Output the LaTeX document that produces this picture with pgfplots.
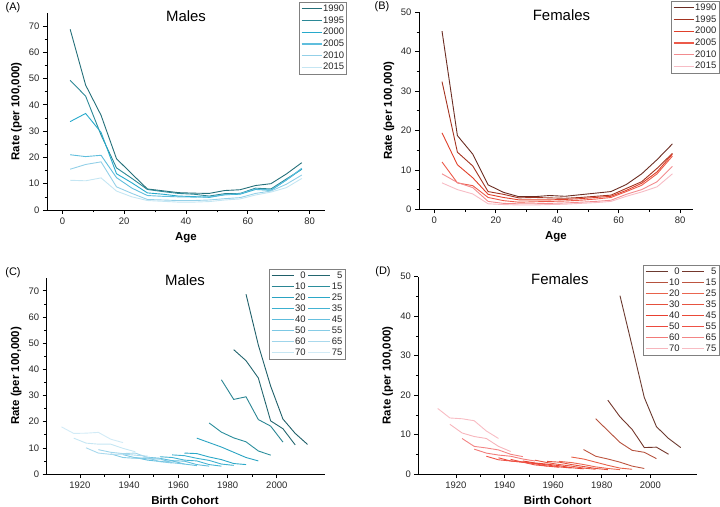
\documentclass[border=0pt]{standalone}
\usepackage{pgfplots}
\pgfplotsset{compat=1.18}
\usepackage{pgfplotstable}
\usepackage{fontspec}
\setmainfont{Liberation Sans}

% Panel A/B colours
\definecolor{m1990}{HTML}{246F79}
\definecolor{m1995}{HTML}{2B8896}
\definecolor{m2000}{HTML}{27AACC}
\definecolor{m2005}{HTML}{5FBEDD}
\definecolor{m2010}{HTML}{93D0E8}
\definecolor{m2015}{HTML}{C5E6F3}
\definecolor{f1990}{HTML}{6B2C22}
\definecolor{f1995}{HTML}{A33320}
\definecolor{f2000}{HTML}{E0402A}
\definecolor{f2005}{HTML}{EC5A4A}
\definecolor{f2010}{HTML}{F28B8E}
\definecolor{f2015}{HTML}{F7BCC5}
% Panel C colours
\definecolor{mc0}{HTML}{1F5F69}
\definecolor{mc5}{HTML}{23666F}
\definecolor{mc10}{HTML}{2A8593}
\definecolor{mc15}{HTML}{2B8E9C}
\definecolor{mc20}{HTML}{2AA3C2}
\definecolor{mc25}{HTML}{2BA8C8}
\definecolor{mc30}{HTML}{3CB0D0}
\definecolor{mc35}{HTML}{44B3D3}
\definecolor{mc40}{HTML}{5DBCDC}
\definecolor{mc45}{HTML}{66C0DF}
\definecolor{mc50}{HTML}{7CC8E4}
\definecolor{mc55}{HTML}{86CCE6}
\definecolor{mc60}{HTML}{9FD5EB}
\definecolor{mc65}{HTML}{AAD9ED}
\definecolor{mc70}{HTML}{C6E6F3}
\definecolor{mc75}{HTML}{D2EBF6}
% Panel D colours
\definecolor{fc0}{HTML}{6B3A30}
\definecolor{fc5}{HTML}{74372C}
\definecolor{fc10}{HTML}{B5523E}
\definecolor{fc15}{HTML}{BD5540}
\definecolor{fc20}{HTML}{E8624A}
\definecolor{fc25}{HTML}{EA6650}
\definecolor{fc30}{HTML}{E4503C}
\definecolor{fc35}{HTML}{E65440}
\definecolor{fc40}{HTML}{E84030}
\definecolor{fc45}{HTML}{EA4A38}
\definecolor{fc50}{HTML}{EC4A3E}
\definecolor{fc55}{HTML}{EE5246}
\definecolor{fc60}{HTML}{F27A78}
\definecolor{fc65}{HTML}{F38585}
\definecolor{fc70}{HTML}{F7B5BC}
\definecolor{fc75}{HTML}{F8BCC3}

\pgfplotstableread{
age y1990 y1995 y2000 y2005 y2010 y2015
2.5 68.7 49.3 33.6 21.0 15.5 11.3
7.5 47.5 43.3 36.7 20.3 17.3 11.1
12.5 36.0 28.5 29.5 20.8 18.3 12.2
17.5 19.5 16.0 13.8 12.3 8.8 7.2
22.5 13.7 12.0 10.3 8.3 6.3 5.0
27.5 8.0 7.8 6.5 5.5 4.0 3.6
32.5 7.3 7.0 6.0 5.2 3.8 3.3
37.5 6.6 6.3 5.3 5.0 3.6 3.0
42.5 6.4 6.0 5.1 4.9 3.6 3.0
47.5 6.3 5.3 4.8 5.0 3.8 3.2
52.5 7.4 6.2 5.8 5.8 4.3 3.8
57.5 7.7 6.3 6.0 6.2 4.7 4.2
62.5 9.3 8.3 7.8 8.0 6.3 5.7
67.5 10.0 8.0 7.5 7.6 7.2 6.8
72.5 13.7 11.8 11.4 11.4 9.8 8.5
77.5 18.0 15.5 15.6 15.9 13.3 12.0
}\males

\pgfplotstableread{
age y1990 y1995 y2000 y2005 y2010 y2015
2.5 45.2 32.4 19.4 12.0 9.0 6.7
7.5 18.7 14.5 11.3 6.7 6.8 5.0
12.5 14.0 11.0 8.0 6.0 5.5 3.9
17.5 6.2 4.5 3.8 3.0 2.0 1.4
22.5 4.3 3.8 3.0 2.2 1.5 1.2
27.5 3.2 2.9 2.4 1.8 1.4 1.1
32.5 3.2 3.0 2.4 1.9 1.4 1.1
37.5 3.5 2.9 2.4 2.0 1.5 1.2
42.5 3.3 2.8 2.5 2.1 1.6 1.3
47.5 3.7 3.0 2.7 2.3 1.8 1.5
52.5 4.1 3.3 3.0 2.6 2.0 1.7
57.5 4.5 3.6 3.3 3.0 2.3 2.0
62.5 6.3 5.3 4.8 4.5 3.8 3.3
67.5 9.0 7.0 6.6 6.1 5.0 4.4
72.5 12.6 10.4 9.5 9.0 7.0 5.7
77.5 16.6 14.2 14.0 13.5 10.9 9.0
}\females

\pgfplotsset{
  panel/.style={
    scale only axis,
    anchor=south west,
    axis lines=left,
    axis line style={-, line width=0.6bp},
    tick align=outside,
    major tick length=4bp,
    minor tick length=2.5bp,
    tick style={line width=0.6bp, black},
    minor tick num=1,
    ymin=0,
    ticklabel style={font=\fontsize{9.5}{10}\selectfont, text=black!85},
    /pgf/number format/assume math mode=true,
    /pgf/number format/1000 sep={},
    ylabel={\textbf{Rate (per 100,000)}},
    ylabel style={at={(axis description cs:-0.11,0.5)}, anchor=center, rotate=0, font=\fontsize{11.5}{12}\selectfont},
    xlabel style={at={(axis description cs:0.5,-0.142)}, anchor=center, inner sep=0.5bp, font=\fontsize{11.5}{12}\selectfont},
    title style={font=\fontsize{15}{16}\selectfont, anchor=center},
    legend style={font=\fontsize{9.5}{10}\selectfont, text=black!85, draw=black!50, line width=0.5bp, anchor=north east,
      inner sep=1.5bp, row sep=1.6bp, nodes={inner sep=1bp}},
    legend image code/.code={\draw[#1, line width=1.1bp] (0bp,0bp) -- (20bp,0bp);},
    every axis plot/.append style={line width=0.9bp, mark=none},
  },
}

\begin{document}
\begin{tikzpicture}
\useasboundingbox (0,0) rectangle (720bp,507bp);

% ---------- (A) ----------
\begin{axis}[panel, at={(47bp,297bp)}, width=278bp, height=197.3bp,
  xmin=-5, xmax=85, ymax=75, xtick={0,20,40,60,80}, ytick={0,10,...,70},
  xlabel={\textbf{Age}},
  title={Males}, title style={at={(axis description cs:0.5,0.952)}},
  legend style={at={(axis description cs:1.079,1.054)}},
  legend cell align=left]
\addplot[m1990] table[x=age,y=y1990]{\males};
\addplot[m1995] table[x=age,y=y1995]{\males};
\addplot[m2000] table[x=age,y=y2000]{\males};
\addplot[m2005] table[x=age,y=y2005]{\males};
\addplot[m2010] table[x=age,y=y2010]{\males};
\addplot[m2015] table[x=age,y=y2015]{\males};
\legend{1990,1995,2000,2005,2010,2015}
\end{axis}

% ---------- (B) ----------
\begin{axis}[panel, at={(419bp,297.7bp)}, width=274bp, height=197bp,
  xmin=-5, xmax=84.2, ymax=50, xtick={0,20,40,60,80}, ytick={0,10,...,50},
  xlabel={\textbf{Age}},
  title={Females}, title style={at={(axis description cs:0.52,0.953)}},
  legend style={at={(axis description cs:1.095,1.057)}},
  legend cell align=left]
\addplot[f1990] table[x=age,y=y1990]{\females};
\addplot[f1995] table[x=age,y=y1995]{\females};
\addplot[f2000] table[x=age,y=y2000]{\females};
\addplot[f2005] table[x=age,y=y2005]{\females};
\addplot[f2010] table[x=age,y=y2010]{\females};
\addplot[f2015] table[x=age,y=y2015]{\females};
\legend{1990,1995,2000,2005,2010,2015}
\end{axis}

% ---------- (C) ----------
\begin{axis}[panel, at={(46.7bp,33bp)}, width=278.3bp, height=196.3bp,
  xmin=1906.5, xmax=2019.6, ymax=75, xtick={1920,1940,1960,1980,2000}, ytick={0,10,...,70},
  xlabel={\textbf{Birth Cohort}}, xlabel style={at={(axis description cs:0.497,-0.132)}},
  title={Males}, title style={at={(axis description cs:0.497,0.955)}},
  legend columns=2,
  legend style={at={(axis description cs:1.072,1.044)}, row sep=0.9bp, /tikz/every even column/.append style={column sep=1bp}},
  legend cell align=right,
  legend image code/.code={\draw[#1, line width=1.1bp] (0bp,0bp) -- (22bp,0bp);}]
\addplot[mc0] coordinates {(1987.5,68.7)(1992.5,49.3)(1997.5,33.6)(2002.5,21.0)(2007.5,15.5)(2012.5,11.3)};
\addplot[mc5] coordinates {(1982.5,47.5)(1987.5,43.3)(1992.5,36.7)(1997.5,20.3)(2002.5,17.3)(2007.5,11.1)};
\addplot[mc10] coordinates {(1977.5,36.0)(1982.5,28.5)(1987.5,29.5)(1992.5,20.8)(1997.5,18.3)(2002.5,12.2)};
\addplot[mc15] coordinates {(1972.5,19.5)(1977.5,16.0)(1982.5,13.8)(1987.5,12.3)(1992.5,8.8)(1997.5,7.2)};
\addplot[mc20] coordinates {(1967.5,13.7)(1972.5,12.0)(1977.5,10.3)(1982.5,8.3)(1987.5,6.3)(1992.5,5.0)};
\addplot[mc25] coordinates {(1962.5,8.0)(1967.5,7.8)(1972.5,6.5)(1977.5,5.5)(1982.5,4.0)(1987.5,3.6)};
\addplot[mc30] coordinates {(1957.5,7.3)(1962.5,7.0)(1967.5,6.0)(1972.5,5.2)(1977.5,3.8)(1982.5,3.3)};
\addplot[mc35] coordinates {(1952.5,6.6)(1957.5,6.3)(1962.5,5.3)(1967.5,5.0)(1972.5,3.6)(1977.5,3.0)};
\addplot[mc40] coordinates {(1947.5,6.4)(1952.5,6.0)(1957.5,5.1)(1962.5,4.9)(1967.5,3.6)(1972.5,3.0)};
\addplot[mc45] coordinates {(1942.5,6.3)(1947.5,5.3)(1952.5,4.8)(1957.5,5.0)(1962.5,3.8)(1967.5,3.2)};
\addplot[mc50] coordinates {(1937.5,7.4)(1942.5,6.2)(1947.5,5.8)(1952.5,5.8)(1957.5,4.3)(1962.5,3.8)};
\addplot[mc55] coordinates {(1932.5,7.7)(1937.5,6.3)(1942.5,6.0)(1947.5,6.2)(1952.5,4.7)(1957.5,4.2)};
\addplot[mc60] coordinates {(1927.5,9.3)(1932.5,8.3)(1937.5,7.8)(1942.5,8.0)(1947.5,6.3)(1952.5,5.7)};
\addplot[mc65] coordinates {(1922.5,10.0)(1927.5,8.0)(1932.5,7.5)(1937.5,7.6)(1942.5,7.2)(1947.5,6.8)};
\addplot[mc70] coordinates {(1917.5,13.7)(1922.5,11.8)(1927.5,11.4)(1932.5,11.4)(1937.5,9.8)(1942.5,8.5)};
\addplot[mc75] coordinates {(1912.5,18.0)(1917.5,15.5)(1922.5,15.6)(1927.5,15.9)(1932.5,13.3)(1937.5,12.0)};
\legend{0,5,10,15,20,25,30,35,40,45,50,55,60,65,70,75}
\end{axis}

% ---------- (D) ----------
\begin{axis}[panel, at={(418.3bp,33bp)}, width=278.7bp, height=197.3bp,
  xmin=1904.5, xmax=2019.2, ymax=50, xtick={1920,1940,1960,1980,2000}, ytick={0,10,...,50},
  xlabel={\textbf{Birth Cohort}}, xlabel style={at={(axis description cs:0.5,-0.132)}},
  title={Females}, title style={at={(axis description cs:0.508,0.955)}},
  legend columns=2,
  legend style={at={(axis description cs:1.079,1.059)}, row sep=0.9bp, /tikz/every even column/.append style={column sep=1bp}},
  legend cell align=right,
  legend image code/.code={\draw[#1, line width=1.1bp] (0bp,0bp) -- (22bp,0bp);}]
\addplot[fc0] coordinates {(1987.5,45.2)(1992.5,32.4)(1997.5,19.4)(2002.5,12.0)(2007.5,9.0)(2012.5,6.7)};
\addplot[fc5] coordinates {(1982.5,18.7)(1987.5,14.5)(1992.5,11.3)(1997.5,6.7)(2002.5,6.8)(2007.5,5.0)};
\addplot[fc10] coordinates {(1977.5,14.0)(1982.5,11.0)(1987.5,8.0)(1992.5,6.0)(1997.5,5.5)(2002.5,3.9)};
\addplot[fc15] coordinates {(1972.5,6.2)(1977.5,4.5)(1982.5,3.8)(1987.5,3.0)(1992.5,2.0)(1997.5,1.4)};
\addplot[fc20] coordinates {(1967.5,4.3)(1972.5,3.8)(1977.5,3.0)(1982.5,2.2)(1987.5,1.5)(1992.5,1.2)};
\addplot[fc25] coordinates {(1962.5,3.2)(1967.5,2.9)(1972.5,2.4)(1977.5,1.8)(1982.5,1.4)(1987.5,1.1)};
\addplot[fc30] coordinates {(1957.5,3.2)(1962.5,3.0)(1967.5,2.4)(1972.5,1.9)(1977.5,1.4)(1982.5,1.1)};
\addplot[fc35] coordinates {(1952.5,3.5)(1957.5,2.9)(1962.5,2.4)(1967.5,2.0)(1972.5,1.5)(1977.5,1.2)};
\addplot[fc40] coordinates {(1947.5,3.3)(1952.5,2.8)(1957.5,2.5)(1962.5,2.1)(1967.5,1.6)(1972.5,1.3)};
\addplot[fc45] coordinates {(1942.5,3.7)(1947.5,3.0)(1952.5,2.7)(1957.5,2.3)(1962.5,1.8)(1967.5,1.5)};
\addplot[fc50] coordinates {(1937.5,4.1)(1942.5,3.3)(1947.5,3.0)(1952.5,2.6)(1957.5,2.0)(1962.5,1.7)};
\addplot[fc55] coordinates {(1932.5,4.5)(1937.5,3.6)(1942.5,3.3)(1947.5,3.0)(1952.5,2.3)(1957.5,2.0)};
\addplot[fc60] coordinates {(1927.5,6.3)(1932.5,5.3)(1937.5,4.8)(1942.5,4.5)(1947.5,3.8)(1952.5,3.3)};
\addplot[fc65] coordinates {(1922.5,9.0)(1927.5,7.0)(1932.5,6.6)(1937.5,6.1)(1942.5,5.0)(1947.5,4.4)};
\addplot[fc70] coordinates {(1917.5,12.6)(1922.5,10.4)(1927.5,9.5)(1932.5,9.0)(1937.5,7.0)(1942.5,5.7)};
\addplot[fc75] coordinates {(1912.5,16.6)(1917.5,14.2)(1922.5,14.0)(1927.5,13.5)(1932.5,10.9)(1937.5,9.0)};
\legend{0,5,10,15,20,25,30,35,40,45,50,55,60,65,70,75}
\end{axis}

% panel letters
\node[font=\fontsize{11}{12}\selectfont] at (13bp,499bp) {(A)};
\node[font=\fontsize{11}{12}\selectfont] at (382bp,500bp) {(B)};
\node[font=\fontsize{11}{12}\selectfont] at (13bp,234.3bp) {(C)};
\node[font=\fontsize{11}{12}\selectfont] at (383bp,235.3bp) {(D)};
\end{tikzpicture}
\end{document}
